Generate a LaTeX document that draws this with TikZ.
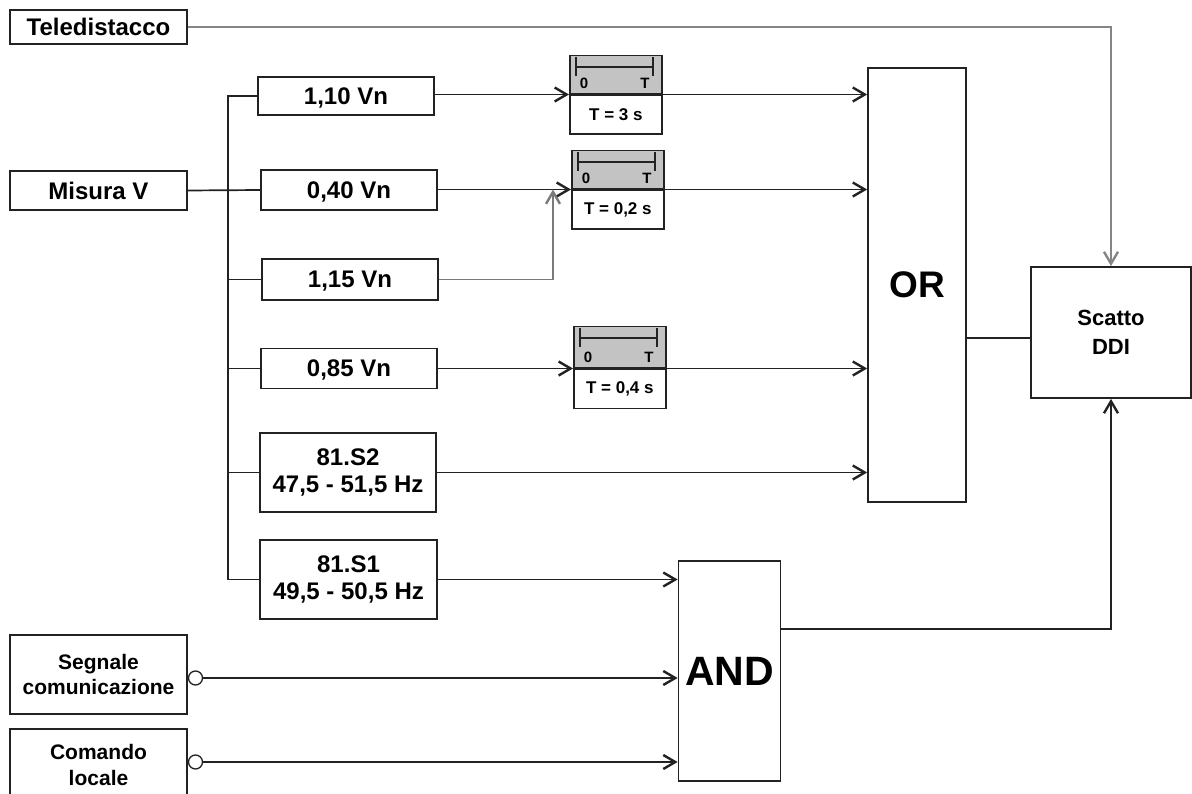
\documentclass[tikz,border=0pt]{standalone}
\usepackage{fontspec}
\setmainfont{Liberation Sans}
\usetikzlibrary{arrows.meta,calc}
\definecolor{ln}{HTML}{222222}
\definecolor{tg}{HTML}{C3C3C3}
\begin{document}
\begin{tikzpicture}[x=1pt,y=-1pt,
  box/.style={draw=ln,line width=1.7pt,fill=white,inner sep=0pt,align=center,
    minimum width=177pt,font=\fontsize{24}{27}\bfseries\selectfont},
  one/.style={text depth=0pt},
  gate/.style={draw=ln,line width=1.7pt,fill=white,inner sep=0pt},
  tgray/.style={draw=ln,line width=1.7pt,fill=tg,inner sep=0pt,minimum width=92pt,minimum height=38pt,anchor=south west},
  twhite/.style={draw=ln,line width=1.7pt,fill=white,inner sep=0pt,minimum width=92pt,minimum height=39pt,anchor=north west,
    font=\fontsize{17}{20}\bfseries\selectfont},
  tlab/.style={inner sep=0pt,font=\fontsize{15}{17}\bfseries\selectfont},
  conn/.style={draw=ln,line width=1.7pt},
  arr/.style={conn,-{Straight Barb[length=12pt,width=14pt,line width=2.4pt]}},
  neg/.style={circle,draw=ln,line width=1.3pt,fill=white,minimum size=14pt,inner sep=0pt,anchor=west}
]
\useasboundingbox (0,0) rectangle (1192,794);
\clip (0,0) rectangle (1192,794);

% left boxes
\node[box,one,minimum height=34pt] (tele) at (98.5,27) {Teledistacco};
\node[box,one,minimum height=39pt] (mis) at (98.5,190.5) {Misura V};
\node[box,minimum height=79pt,font=\fontsize{21}{25}\bfseries\selectfont] (segn) at (98.5,674.5) {Segnale\\comunicazione};
\node[box,minimum height=80pt] (com) at (98.5,769) {};
\node[inner sep=0pt,align=center,font=\fontsize{21}{26}\bfseries\selectfont] (comt) at (98.5,765) {Comando\\locale};

% threshold boxes
\node[box,one,minimum width=176pt,minimum height=38pt] (v110) at (346,96) {1,10 Vn};
\node[box,one,minimum width=176pt,minimum height=40pt] (v040) at (349,190) {0,40 Vn};
\node[box,one,minimum width=176pt,minimum height=41pt] (v115) at (350,279.5) {1,15 Vn};
\node[box,one,minimum width=176pt,minimum height=40pt] (v085) at (349,368.5) {0,85 Vn};
\node[box,minimum width=176pt,minimum height=79pt] (s2) at (348,472.5) {81.S2\\47,5 - 51,5 Hz};
\node[box,minimum width=177pt,minimum height=79pt] (s1) at (348.5,579.5) {81.S1\\49,5 - 50,5 Hz};

% gates
\node[gate,minimum width=98pt,minimum height=434pt,font=\fontsize{37}{40}\bfseries\selectfont] (or) at (917,285) {OR};
\node[gate,minimum width=102pt,minimum height=220pt,font=\fontsize{41}{44}\bfseries\selectfont] (and) at (729.5,671) {AND};
\node[gate,minimum width=160pt,minimum height=131pt,align=center,font=\fontsize{22}{29}\bfseries\selectfont] (ddi) at (1111,332.5) {Scatto\\DDI};

% timers
\node[tgray] (t1a) at (569,94.5) {};
\node[twhite] (t1b) at (t1a.south west) {T = 3 s};
\node[tgray] (t2a) at (571,189.5) {};
\node[twhite] (t2b) at (t2a.south west) {T = 0,2 s};
\node[tgray,minimum height=41pt] (t3a) at (573,368.5) {};
\node[twhite] (t3b) at (t3a.south west) {T = 0,4 s};
\foreach \t in {t1a,t2a,t3a}{
  \draw[ln,line width=1.5pt] ($(\t.north west)+(7,2)$) -- ++(0,19)
    ($(\t.north west)+(7,12)$) -- ($(\t.north west)+(84,12)$)
    ($(\t.north west)+(84,2)$) -- ++(0,19);
  \node[tlab] (\t0) at ($(\t.south west)+(15,-11)$) {0};
  \node[tlab] (\t1) at ($(\t.south west)+(76,-11)$) {T};
}

% bus
\coordinate (bt) at (228,96);
\coordinate (bb) at (228,579.5);
\draw[conn] (v110.west) -- (bt) -- (bb) -- (s1.west);
\draw[conn] (mis.east) -- (v040.west);
\draw[conn] (bt |- v115.west) -- (v115.west);
\draw[conn] (bt |- v085.west) -- (v085.west);
\draw[conn] (bt |- s2.west) -- (s2.west);

% into timers
\draw[arr] (v110.east |- t1a.south west) -- (t1a.south west);
\draw[arr] (v040.east |- t2a.south west) -- (t2a.south west);
\coordinate (j2) at ($(t2a.south west)+(-18,0)$);
\draw[arr,draw=ln!60] (v115.east) -| (j2);
\draw[arr] (v085.east |- t3a.south west) -- (t3a.south west);

% into OR
\draw[arr] (t1a.south east) -- (or.west |- t1a.south east);
\draw[arr] (t2a.south east) -- (or.west |- t2a.south east);
\draw[arr] (t3a.south east) -- (or.west |- t3a.south east);
\draw[arr] (s2.east) -- (or.west |- s2.east);

% into AND
\draw[arr] (s1.east) -- (and.west |- s1.east);
\node[neg] (c1) at (segn.east |- 0,678) {};
\node[neg] (c2) at (com.east |- 0,762) {};
\draw[arr] (c1.east) -- (and.west |- c1.east);
\draw[arr] (c2.east) -- (and.west |- c2.east);

% outputs
\coordinate (oout) at (or.east |- 0,338);
\draw[conn] (oout) -- (ddi.west |- oout);
\coordinate (aout) at (and.east |- 0,629);
\draw[arr] (aout) -| (ddi.south);
\draw[arr,draw=ln!55] (tele.east) -| (ddi.north);
\end{tikzpicture}
\end{document}
